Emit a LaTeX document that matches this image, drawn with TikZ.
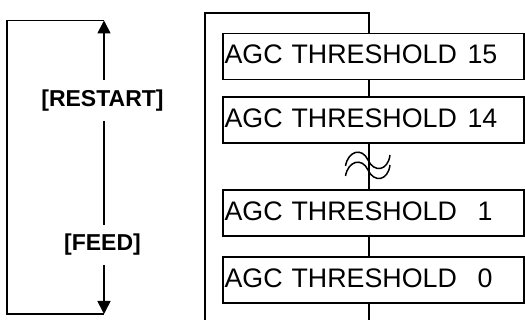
\documentclass[tikz,border=0pt]{standalone}
\usepackage{fontspec}
\setmainfont{Liberation Sans}
\usetikzlibrary{arrows.meta}
\begin{document}
\begin{tikzpicture}[x=1pt,y=-1pt,line width=1.6pt,
  agcbox/.style={draw,rectangle,minimum height=46pt,text width=298pt,inner xsep=1.5pt,inner ysep=0pt,
    align=left,anchor=west,font=\fontsize{26.8}{30}\selectfont,text height=19pt,text depth=4pt},
  keylabel/.style={font=\fontsize{23}{26}\selectfont\bfseries,inner xsep=0pt,inner ysep=8.7pt,
    text height=16.8pt,text depth=4.8pt},
  tip/.style={-{Triangle[width=13pt,length=13pt]}},
  wave/.style={line width=1.5pt}]
\useasboundingbox (0,0) rectangle (525,320);
% left loop
\coordinate (ttop) at (104,20.5);
\coordinate (tbot) at (104,314);
\coordinate (lt) at (7,20.5);
\coordinate (lb) at (7,314);
\node[keylabel] (restart) at (102.5,100.5) {[RESTART]};
\node[keylabel] (feed) at (102.5,245) {[FEED]};
\draw[tip] (restart.north -| ttop) -- (ttop);
\draw (restart.south -| ttop) -- (feed.north -| ttop);
\draw[tip] (feed.south -| ttop) -- (tbot);
\draw (ttop) -- (lt) -- (lb) -- (tbot);
% boxes
\node[agcbox] (b1) at (222.3,56.5) {\makebox[243pt][l]{AGC THRESHOLD}15};
\node[agcbox] (b2) at (222.3,120.2) {\makebox[243pt][l]{AGC THRESHOLD}14};
\node[agcbox] (b3) at (222.3,213.3) {\makebox[253pt][l]{AGC THRESHOLD}1};
\node[agcbox] (b4) at (222.3,280) {\makebox[253pt][l]{AGC THRESHOLD}0};
% frame and connectors
\coordinate (ol) at (205,13.3);
\coordinate (or) at (369,13.3);
\coordinate (olb) at (205,320);
\coordinate (orb) at (369,320);
\draw (olb) -- (ol) -- (or) -- (or |- b1.north);
\draw (b1.south -| or) -- (b2.north -| or);
\draw (b2.south -| or) -- (b3.north -| or);
\draw (b3.south -| or) -- (b4.north -| or);
\draw (b4.south -| or) -- (orb);
% break symbol
\draw[wave] (345.5,166) .. controls (348,151) and (362,147) .. (368,160) .. controls (374,173) and (388,171) .. (390,155);
\draw[wave] (345.5,176) .. controls (348,161) and (362,157) .. (368,170) .. controls (374,183) and (388,181) .. (390,165);
\end{tikzpicture}
\end{document}
